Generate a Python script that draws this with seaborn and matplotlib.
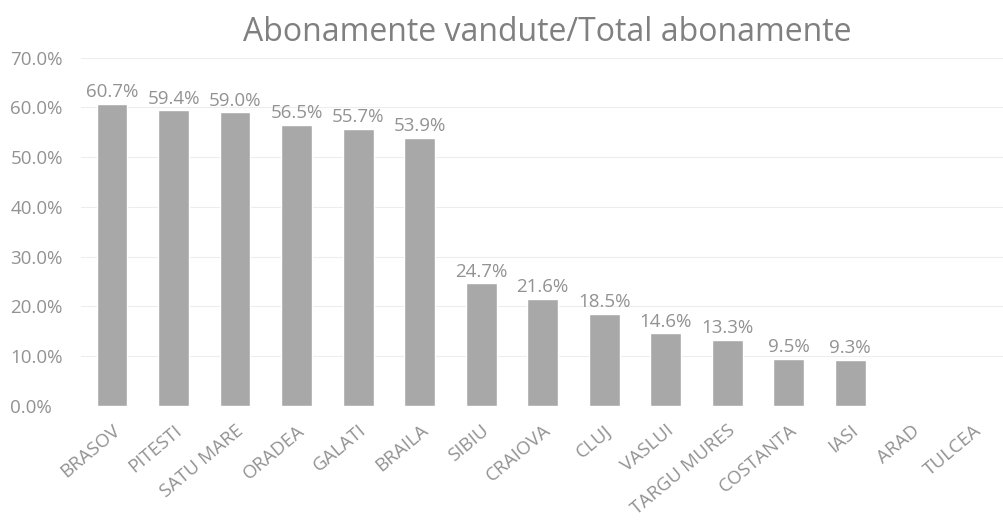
import numpy as np
import pandas as pd
import matplotlib
matplotlib.use("Agg")
import matplotlib.pyplot as plt
import seaborn as sns
from matplotlib.ticker import PercentFormatter

cities = ['BRASOV', 'PITESTI', 'SATU MARE', 'ORADEA', 'GALATI', 'BRAILA', 'SIBIU',
          'CRAIOVA', 'CLUJ', 'VASLUI', 'TARGU MURES', 'COSTANTA', 'IASI', 'ARAD', 'TULCEA']
share = [60.7, 59.4, 59.0, 56.5, 55.7, 53.9, 24.7, 21.6, 18.5, 14.6, 13.3, 9.5, 9.3,
         np.nan, np.nan]

df = pd.DataFrame({'oras': cities, 'procent': share})

sns.set_style('white')
plt.rcParams['font.family'] = ['Open Sans', 'DejaVu Sans']

txt = '#929292'
fig = plt.figure(figsize=(10.04, 5.28), dpi=100)
ax = fig.add_axes([0.081, 0.231, 0.919, 0.66])
sns.barplot(data=df, x='oras', y='procent', color='#a8a8a8', width=0.5,
            saturation=1, ax=ax)

for i, v in enumerate(share):
    if not np.isnan(v):
        ax.text(i, v + 0.5, f'{v:.1f}%', ha='center', va='bottom', fontsize=13.5, color=txt)

ax.set_ylim(0, 70)
ax.set_yticks(np.arange(0, 71, 10))
ax.yaxis.set_major_formatter(PercentFormatter(decimals=1))
ax.grid(axis='y', color='#ededed', linewidth=0.8)
ax.set_axisbelow(True)
for s in ax.spines.values():
    s.set_visible(False)
ax.set_xlabel('')
ax.set_ylabel('')
ax.tick_params(axis='y', labelsize=13.5, labelcolor=txt, length=0, pad=51)
for lbl in ax.get_yticklabels():
    lbl.set_ha('left')
ax.tick_params(axis='x', labelsize=13.5, labelcolor=txt, length=0, pad=11)
plt.setp(ax.get_xticklabels(), rotation=40, ha='right', rotation_mode='anchor')

fig.suptitle('Abonamente vandute/Total abonamente', x=0.545, y=0.97, fontsize=23,
             color='#808080')

fig.savefig('out.png', dpi=100)
